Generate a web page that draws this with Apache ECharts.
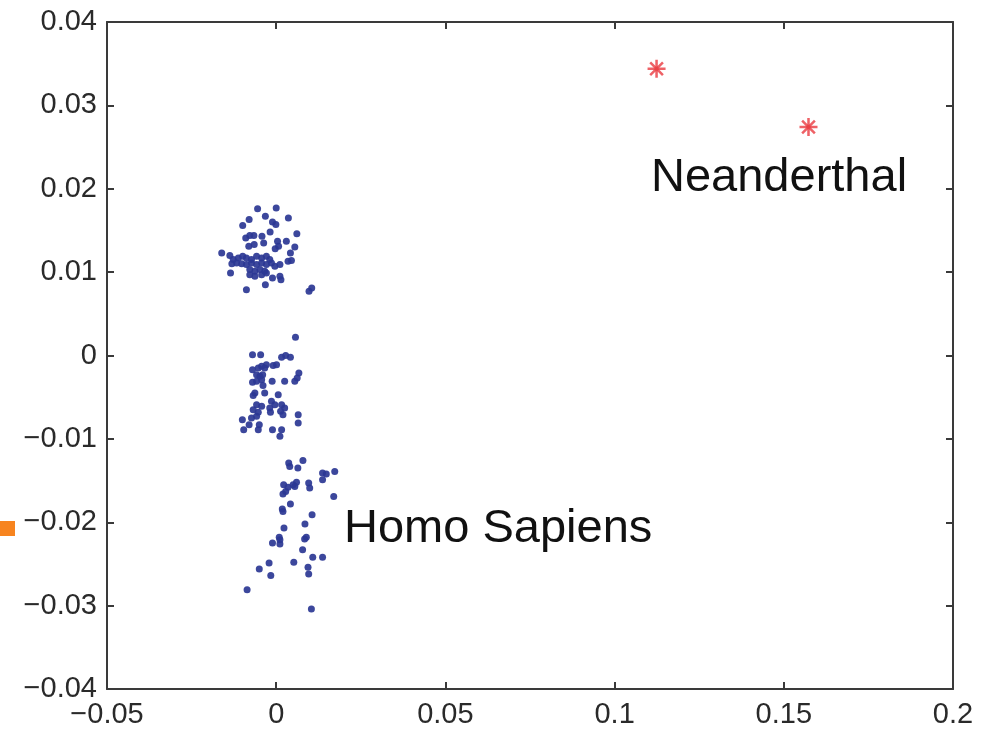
<!DOCTYPE html>
<html>
<head>
<meta charset="utf-8">
<script src="https://cdn.jsdelivr.net/npm/echarts@6/dist/echarts.min.js"></script>
<style>
  html, body { margin: 0; padding: 0; background: #fff; }
  #main { width: 987px; height: 729px; }
</style>
</head>
<body>
<div id="main"></div>
<script>
// upper group of modern humans
const sapiensTop = [
  [-0.0055, 0.0176], [0.0000, 0.0177], [-0.0080, 0.0163], [-0.0032, 0.0167],
  [0.0036, 0.0165], [-0.0011, 0.0160], [-0.0001, 0.0157], [-0.0099, 0.0156],
  [-0.0018, 0.0148], [0.0061, 0.0146], [-0.0090, 0.0141], [-0.0078, 0.0144],
  [-0.0066, 0.0144], [-0.0042, 0.0143], [-0.0037, 0.0135], [0.0004, 0.0137],
  [0.0030, 0.0137], [-0.0081, 0.0131], [-0.0065, 0.0133], [0.0007, 0.0131],
  [-0.0003, 0.0128], [0.0055, 0.0130], [-0.0161, 0.0123], [-0.0137, 0.0120],
  [0.0042, 0.0123], [-0.0127, 0.0115], [-0.0112, 0.0117], [-0.0099, 0.0119],
  [-0.0088, 0.0117], [-0.0073, 0.0115], [-0.0058, 0.0119], [-0.0043, 0.0117],
  [-0.0029, 0.0119], [-0.0019, 0.0115], [-0.0131, 0.0110], [-0.0117, 0.0111],
  [-0.0102, 0.0110], [-0.0088, 0.0109], [-0.0073, 0.0111], [-0.0058, 0.0109],
  [-0.0043, 0.0111], [-0.0029, 0.0109], [-0.0014, 0.0111], [-0.0078, 0.0103],
  [-0.0063, 0.0101], [-0.0048, 0.0103], [-0.0034, 0.0101], [-0.0078, 0.0097],
  [-0.0063, 0.0095], [-0.0043, 0.0097], [-0.0029, 0.0099], [-0.0004, 0.0107],
  [0.0011, 0.0109], [0.0035, 0.0113], [0.0045, 0.0114], [-0.0135, 0.0099],
  [-0.0011, 0.0093], [0.0011, 0.0095], [0.0014, 0.0091], [-0.0032, 0.0085],
  [-0.0088, 0.0079], [0.0097, 0.0077], [0.0105, 0.0081]
];
// middle group
const sapiensMid = [
  [0.0057, 0.0022], [-0.0070, 0.0001], [-0.0046, 0.0001], [0.0016, -0.0002],
  [0.0028, 0.0000], [0.0042, -0.0002], [-0.0029, -0.0011], [-0.0009, -0.0012],
  [0.0001, -0.0011], [-0.0070, -0.0017], [-0.0053, -0.0015], [-0.0043, -0.0013],
  [-0.0034, -0.0015], [-0.0058, -0.0023], [-0.0048, -0.0025], [-0.0040, -0.0023],
  [0.0067, -0.0021], [0.0062, -0.0027], [-0.0070, -0.0032], [-0.0058, -0.0031],
  [-0.0043, -0.0029], [-0.0012, -0.0031], [0.0025, -0.0031], [0.0055, -0.0031],
  [-0.0039, -0.0036], [-0.0063, -0.0045], [-0.0068, -0.0048], [-0.0034, -0.0045],
  [0.0006, -0.0047], [-0.0014, -0.0055], [-0.0004, -0.0059], [0.0016, -0.0059],
  [0.0025, -0.0063], [-0.0058, -0.0059], [-0.0043, -0.0061], [-0.0068, -0.0065],
  [-0.0053, -0.0068], [-0.0019, -0.0063], [-0.0017, -0.0068], [0.0013, -0.0067],
  [0.0020, -0.0071], [0.0065, -0.0071], [0.0065, -0.0081], [-0.0100, -0.0077],
  [-0.0073, -0.0075], [-0.0058, -0.0073], [-0.0080, -0.0083], [-0.0050, -0.0083],
  [-0.0096, -0.0089], [-0.0053, -0.0089], [-0.0011, -0.0089], [0.0016, -0.0089],
  [0.0011, -0.0097]
];
// lower group
const sapiensLow = [
  [0.0037, -0.0129], [0.0040, -0.0133], [0.0079, -0.0126], [0.0064, -0.0135],
  [0.0137, -0.0141], [0.0148, -0.0142], [0.0173, -0.0139], [0.0137, -0.0149],
  [0.0022, -0.0155], [0.0035, -0.0158], [0.0028, -0.0163], [0.0020, -0.0166],
  [0.0050, -0.0155], [0.0060, -0.0152], [0.0055, -0.0157], [0.0096, -0.0153],
  [0.0099, -0.0159], [0.0170, -0.0169], [0.0018, -0.0184], [0.0020, -0.0187],
  [0.0042, -0.0178], [0.0106, -0.0191], [0.0085, -0.0202], [0.0023, -0.0207],
  [0.0009, -0.0218], [0.0011, -0.0221], [-0.0011, -0.0225], [0.0011, -0.0226],
  [0.0084, -0.0220], [0.0089, -0.0218], [0.0078, -0.0233], [0.0108, -0.0242],
  [0.0137, -0.0242], [-0.0021, -0.0249], [-0.0050, -0.0256], [-0.0016, -0.0264],
  [0.0052, -0.0248], [0.0094, -0.0254], [0.0096, -0.0262], [-0.0086, -0.0281],
  [0.0104, -0.0304]
];
const neanderthal = [[0.1124, 0.0344], [0.1573, 0.0274]];

const xTicks = { min: -0.05, max: 0.2, interval: 0.05 };
const yTicks = { min: -0.04, max: 0.04, interval: 0.01 };

const AXIS_COLOR = '#3a3a3a';
const FONT = '"Liberation Sans", Arial, Helvetica, sans-serif';
const plus = 'path://M8.6 0 H11.4 V8.6 H20 V11.4 H11.4 V20 H8.6 V11.4 H0 V8.6 H8.6 Z';

function fmt(v) {
  let s = String(parseFloat(v.toFixed(2)));
  return s.replace('-', '\u2212');
}

function axisX(pos, show) {
  return {
    type: 'value', position: pos, min: xTicks.min, max: xTicks.max, interval: xTicks.interval,
    splitLine: { show: false },
    axisLine: { onZero: false, lineStyle: { color: AXIS_COLOR, width: 2 } },
    axisTick: { inside: true, length: 7, lineStyle: { color: AXIS_COLOR, width: 2 } },
    axisLabel: { show: show, margin: 11, fontSize: 29, color: '#2a2a2a', fontFamily: FONT, formatter: fmt }
  };
}
function axisY(pos, show) {
  return {
    type: 'value', position: pos, min: yTicks.min, max: yTicks.max, interval: yTicks.interval,
    splitLine: { show: false },
    axisLine: { onZero: false, lineStyle: { color: AXIS_COLOR, width: 2 } },
    axisTick: { inside: true, length: 7, lineStyle: { color: AXIS_COLOR, width: 2 } },
    axisLabel: { show: show, margin: 10, fontSize: 29, color: '#2a2a2a', fontFamily: FONT, formatter: fmt }
  };
}

const chart = echarts.init(document.getElementById('main'));
chart.setOption({
  animation: false,
  backgroundColor: '#fff',
  grid: { left: 107, right: 34, top: 22, bottom: 40 },
  xAxis: [axisX('bottom', true), axisX('top', false)],
  yAxis: [axisY('left', true), axisY('right', false)],
  series: [
    {
      type: 'scatter', name: 'Homo Sapiens',
      data: sapiensTop.concat(sapiensMid, sapiensLow),
      symbol: 'circle', symbolSize: 7,
      itemStyle: { color: '#2b3794', opacity: 0.92 }
    },
    {
      type: 'scatter', name: 'Neanderthal',
      data: neanderthal, symbol: plus, symbolSize: 18,
      itemStyle: { color: '#ea3a40' }
    },
    {
      type: 'scatter', name: 'Neanderthal x',
      data: neanderthal, symbol: plus, symbolSize: 18, symbolRotate: 45,
      itemStyle: { color: '#ea3a40' }
    }
  ],
  graphic: [
    {
      type: 'text', x: 651, y: 155,
      style: { text: 'Neanderthal', x: 0, y: 0, font: '47px ' + FONT, fill: '#111', textVerticalAlign: 'top' }
    },
    {
      type: 'text', x: 344, y: 506,
      style: { text: 'Homo Sapiens', x: 0, y: 0, font: '47px ' + FONT, fill: '#111', textVerticalAlign: 'top' }
    },
    {
      type: 'rect', shape: { x: 0, y: 521, width: 15, height: 15 },
      style: { fill: '#f7841f' }
    }
  ]
});
</script>
</body>
</html>
